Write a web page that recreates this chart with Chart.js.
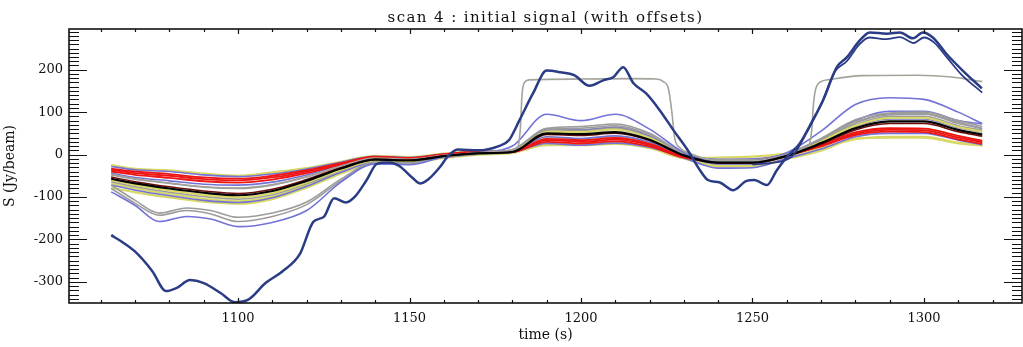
<!DOCTYPE html>
<html lang="en">
<head>
<meta charset="UTF-8">
<title>scan 4 : initial signal (with offsets)</title>
<script src="https://cdn.jsdelivr.net/npm/chart.js"></script>
<style>
    html, body { margin: 0; padding: 0; background: white; }
    .chart-wrapper { width: 1023px; height: 347px; }
</style>
</head>
<body>
<div class="chart-wrapper"><canvas id="scanChart"></canvas></div>
<script>
const chartTitle = 'scan 4 : initial signal (with offsets)';

// axis labels
const xTicks = [1100, 1150, 1200, 1250, 1300];
const yTicks = [-300, -200, -100, 0, 100, 200];

// common time samples for the bundle of detectors (s)
const bandTime = [1063,1070,1080,1090,1100,1110,1120,1130,1140,1150,1160,1170,1180,1190,1200,1210,1220,1230,1240,1250,1260,1270,1280,1290,1300,1310,1317];

// bundle signals (Jy/beam)
const black   = [-57,-68,-80,-90,-96,-86,-62,-33,-12,-14,-4,3,6,50,48,53,35,-2,-19,-19,-3,27,62,78,78,58,47];
const maroon  = [-53,-64,-76,-86,-92,-82,-59,-31,-11,-13,-3,3,6,47,45,50,33,-3,-20,-20,-4,24,58,73,73,54,43];
const yellowA = [-25,-34,-37,-45,-50,-42,-32,-17,-3,-6,2,8,8,28,24,29,17,-8,-7,-5,2,15,36,42,42,28,22];
const yellowB = [-78,-89,-101,-111,-116,-105,-78,-45,-20,-20,-8,0,4,22,22,25,15,-9,-28,-28,-10,9,38,40,40,26,21];
const yellowC = [-60,-72,-85,-95,-101,-91,-66,-36,-14,-16,-5,2,7,55,53,59,39,-1,-17,-17,-2,31,68,86,86,65,54];
const yellowE = [-68,-80,-93,-104,-110,-99,-72,-40,-16,-18,-6,2,6,40,36,41,27,-5,-24,-24,-5,19,50,60,60,43,31];
const redA    = [-33,-40,-46,-54,-57,-50,-37,-20,-5,-8,1,7,7,30,26,31,19,-7,-14,-13,-1,19,46,54,53,36,25];
const redB    = [-40,-48,-55,-63,-66,-59,-44,-24,-7,-10,-1,5,6,37,34,39,25,-5,-17,-17,-3,22,52,62,61,44,33];
const redC    = [-36,-44,-50,-58,-61,-54,-40,-22,-6,-9,0,6,6,34,30,35,22,-6,-16,-15,-2,21,49,58,57,40,29];
const blueA   = [-28,-36,-40,-48,-52,-46,-34,-18,-4,-7,1,7,10,60,57,63,43,0,-11,-10,2,37,80,102,102,80,72];
const blueB   = [-72,-84,-97,-108,-113,-102,-75,-42,-18,-19,-7,1,5,26,22,27,17,-8,-32,-31,-9,13,42,50,50,34,23];
const blueC   = [-44,-54,-62,-70,-72,-65,-48,-26,-8,-11,-2,5,7,42,38,44,29,-4,-22,-22,-4,24,66,84,84,63,53];
const grayA   = [-48,-58,-68,-77,-80,-72,-53,-28,-9,-12,-3,4,8,58,56,62,41,-1,-16,-16,-1,31,70,90,90,68,57];
const grayB   = [-64,-76,-89,-99,-105,-95,-69,-38,-15,-17,-6,2,8,60,59,65,43,0,-15,-15,0,34,74,96,96,73,61];

// detectors with larger response
const lowTime  = [1063,1070,1077,1085,1092,1100,1110,1120,1130,1140,1150,1160,1170,1180,1190,1200,1210,1220,1230,1240,1250,1260,1270,1280,1290,1300,1310,1317];
const grayLow1 = [-72,-108,-138,-126,-132,-148,-138,-112,-58,-18,-20,-3,4,12,62,66,72,50,2,-12,-12,2,38,82,98,100,80,66];
const grayLow2 = [-80,-115,-143,-132,-140,-158,-146,-118,-62,-20,-21,-4,3,11,58,62,68,47,0,-13,-13,1,35,78,94,96,76,62];
const purpleLow = [-88,-120,-158,-146,-152,-170,-160,-132,-65,-22,-24,-5,4,20,95,80,95,60,5,-16,-15,4,55,118,134,130,100,73];

// saturated-looking gray channel
const stepTime = [1063,1070,1080,1090,1100,1110,1120,1130,1140,1150,1160,1170,1178,1181.5,1182.3,1182.8,1183.5,1185,1200,1215,1222,1224,1225.5,1226.5,1227.3,1229,1232,1240,1250,1260,1265,1266.5,1267.3,1267.8,1268.3,1269.6,1272.6,1282,1298,1308,1317];
const grayStep = [-46,-57,-67,-76,-79,-71,-52,-27,-8,-11,-2,4,9,16,60,140,170,176,178,179,178,172,155,100,40,15,2,-15,-15,0,12,22,60,120,150,170,177,186,187,183,172];

// the strongly drifting channel
const navyTime = [1063,1066,1070,1075,1079,1082,1086,1090,1095,1099,1103,1108,1113,1118,1122,1125,1128,1131.5,1134,1137.5,1140.5,1144,1147,1151,1153,1155.5,1159,1161,1164,1170,1176,1179,1182,1186,1190,1194,1198,1202.5,1206.5,1209.5,1212.3,1215.3,1219,1223,1227,1231,1234.7,1237,1240.5,1244.4,1248.3,1250.5,1254.2,1257.1,1260,1263.8,1267.6,1270.6,1274.6,1277.5,1281.3,1284.2,1289.2,1293,1296.8,1299.7,1302.6,1306.6,1311.3,1316.9];
const navy = [-190,-205,-229,-275,-322,-315,-296,-303,-327,-348,-342,-303,-275,-235,-158,-147,-103,-113,-100,-60,-22,-19,-27,-56,-68,-58,-28,-6,12,10,20,34,80,144,198,194,187,162,175,183,206,168,144,104,57,12,-37,-60,-66,-84,-62,-60,-72,-37,-6,26,81,128,206,229,269,288,285,288,274,288,276,237,198,156];
const navy2Time = [1250,1255,1259,1262,1266,1270,1274,1277.5,1281,1284,1289,1293,1297,1300,1303,1307,1311,1317];
const navy2 = [-24,-20,-15,0,55,118,195,220,258,276,272,277,263,276,264,226,188,146];

const NAVY = '#2b3c86', PURPLE = '#7272d8', GRAY = '#9c9c9c', RED = '#ee1515', YELLOW = '#d9d865';

function series(times, vals, color, width) {
    return {
        data: times.map((t, i) => ({ x: t, y: vals[i] })),
        borderColor: color,
        borderWidth: width,
        pointRadius: 0,
        fill: false,
        cubicInterpolationMode: 'monotone'
    };
}

// first dataset is drawn on top
const datasets = [
    series(navyTime, navy, NAVY, 2.5),
    series(navy2Time, navy2, NAVY, 1.8),
    series(bandTime, black, '#000000', 2.2),
    series(bandTime, maroon, '#6e0d0d', 1.5),
    series(stepTime, grayStep, '#a3a39b', 1.6),
    series(lowTime, purpleLow, PURPLE, 1.6),
    series(lowTime, grayLow1, GRAY, 1.6),
    series(lowTime, grayLow2, GRAY, 1.6),
    series(bandTime, redA, RED, 1.8),
    series(bandTime, yellowC, YELLOW, 2),
    series(bandTime, grayA, GRAY, 1.6),
    series(bandTime, redB, RED, 1.8),
    series(bandTime, redC, RED, 1.8),
    series(bandTime, blueA, PURPLE, 1.6),
    series(bandTime, blueC, PURPLE, 1.6),
    series(bandTime, grayB, GRAY, 1.6),
    series(bandTime, blueB, PURPLE, 1.6),
    series(bandTime, yellowE, YELLOW, 2),
    series(bandTime, yellowA, YELLOW, 2.2),
    series(bandTime, yellowB, YELLOW, 2.2)
];

// IDL style box with inward ticks on all four sides, plus the title
const idlAxes = {
    id: 'idlAxes',
    afterDraw(chart) {
        const { ctx, chartArea: a, scales: { x, y } } = chart;
        ctx.save();
        ctx.strokeStyle = '#111';
        ctx.lineWidth = 1.6;
        ctx.strokeRect(a.left, a.top, a.right - a.left, a.bottom - a.top);
        ctx.lineWidth = 1.2;
        ctx.beginPath();
        for (let v = -340; v <= 290; v += 10) {
            const py = Math.round(y.getPixelForValue(v)) + 0.5;
            const len = yTicks.includes(v) ? 18 : 10;
            ctx.moveTo(a.left, py); ctx.lineTo(a.left + len, py);
            ctx.moveTo(a.right, py); ctx.lineTo(a.right - len, py);
        }
        for (let t = 1060; t <= 1320; t += 10) {
            const px = Math.round(x.getPixelForValue(t)) + 0.5;
            const len = xTicks.includes(t) ? 5 : 3;
            ctx.moveTo(px, a.bottom); ctx.lineTo(px, a.bottom - len);
            ctx.moveTo(px, a.top); ctx.lineTo(px, a.top + len);
        }
        ctx.stroke();

        ctx.fillStyle = '#111';
        ctx.font = '15px "DejaVu Serif"';
        ctx.letterSpacing = '1.4px';
        ctx.textAlign = 'center';
        ctx.textBaseline = 'alphabetic';
        ctx.fillText(chartTitle, (a.left + a.right) / 2, 22);
        ctx.restore();
    }
};

const axisFont = { family: 'DejaVu Serif', size: 13 };

new Chart(document.getElementById('scanChart').getContext('2d'), {
    type: 'line',
    data: { datasets },
    options: {
        responsive: true,
        maintainAspectRatio: false,
        animation: false,
        events: [],
        layout: { padding: { top: 29, right: 1, bottom: 0, left: 0 } },
        plugins: {
            legend: { display: false },
            tooltip: { enabled: false },
            title: { display: false }
        },
        scales: {
            x: {
                type: 'linear',
                min: 1050.7,
                max: 1328.6,
                grid: { display: false, drawTicks: false },
                border: { display: false },
                afterBuildTicks: s => { s.ticks = xTicks.map(v => ({ value: v })); },
                afterFit: s => { s.height = 44; },
                ticks: { color: '#111', font: axisFont, padding: 8, maxRotation: 0, callback: v => String(v) },
                title: { display: true, text: 'time (s)', color: '#111',
                         font: { family: 'DejaVu Serif', size: 14 }, padding: { top: 0, bottom: 3 } }
            },
            y: {
                min: -350,
                max: 296,
                grid: { display: false, drawTicks: false },
                border: { display: false },
                afterBuildTicks: s => { s.ticks = yTicks.map(v => ({ value: v })); },
                afterFit: s => { s.width = 69; },
                ticks: { color: '#111', font: axisFont, padding: 6, callback: v => String(v) },
                title: { display: true, text: 'S (Jy/beam)', color: '#111',
                         font: { family: 'DejaVu Serif', size: 14 }, padding: { top: 2, bottom: 0 } }
            }
        }
    },
    plugins: [idlAxes]
});
</script>
</body>
</html>
